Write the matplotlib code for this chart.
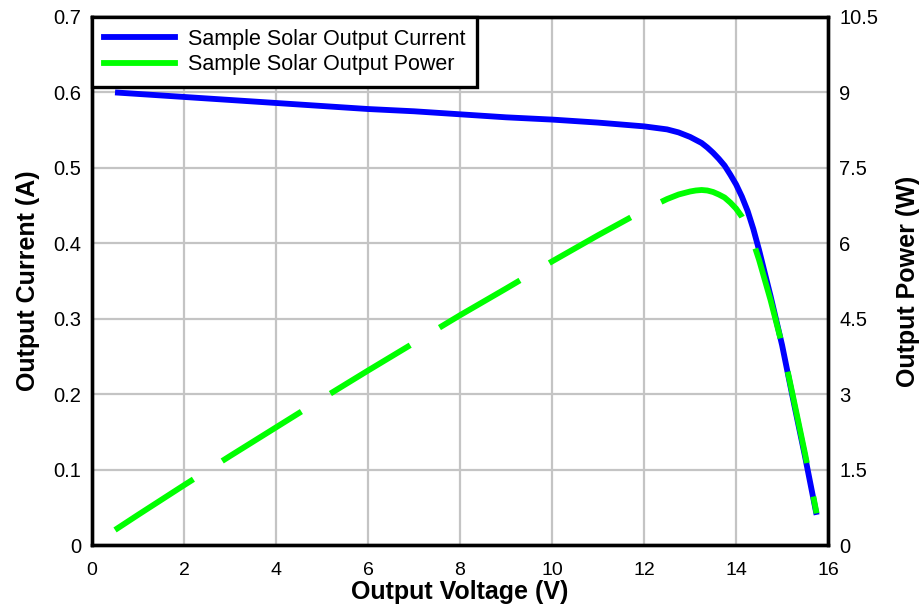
#!/usr/bin/env python3
"""Sample solar panel I-V and P-V curves on twin y axes."""

import matplotlib
matplotlib.use("Agg")
import matplotlib.pyplot as plt
from matplotlib.lines import Line2D

# ---------------------------------------------------------------------
# Data
# ---------------------------------------------------------------------
voltage = [0.5, 1, 2, 3, 4, 5, 6, 7, 8, 9, 10, 11, 12, 12.25, 12.5, 12.75,
           13, 13.125, 13.25, 13.375, 13.5, 13.625, 13.75, 13.875, 14,
           14.125, 14.25, 14.375, 14.5, 14.75, 15, 15.25, 15.5, 15.75]
current = [0.600, 0.598, 0.594, 0.590, 0.586, 0.582, 0.578, 0.575, 0.571,
           0.567, 0.564, 0.560, 0.555, 0.553, 0.551, 0.547, 0.541, 0.537,
           0.533, 0.527, 0.520, 0.512, 0.503, 0.491, 0.478, 0.462, 0.443,
           0.419, 0.391, 0.330, 0.265, 0.190, 0.117, 0.040]
power = [0.30, 0.60, 1.19, 1.77, 2.34, 2.91, 3.47, 4.02, 4.57, 5.10, 5.64,
         6.16, 6.66, 6.77, 6.88, 6.97, 7.03, 7.05, 7.06, 7.05, 7.02, 6.97,
         6.91, 6.81, 6.69, 6.53, 6.31, 6.02, 5.67, 4.87, 3.98, 2.90, 1.81,
         0.63]

x_ticks = [0, 2, 4, 6, 8, 10, 12, 14, 16]
i_ticks = [0, 0.1, 0.2, 0.3, 0.4, 0.5, 0.6, 0.7]
i_labels = ["0", "0.1", "0.2", "0.3", "0.4", "0.5", "0.6", "0.7"]
p_ticks = [0, 1.5, 3, 4.5, 6, 7.5, 9, 10.5]
p_labels = ["0", "1.5", "3", "4.5", "6", "7.5", "9", "10.5"]

series_names = ["Sample Solar Output Current", "Sample Solar Output Power"]

BLUE = "#0000ff"
GREEN = "#00ff00"
GRID = "#c4c4c4"
LW = 4.2

plt.rcParams["font.family"] = ["Liberation Sans", "DejaVu Sans"]

fig = plt.figure(figsize=(9.24, 6.07), dpi=100)
ax = fig.add_axes([0.0996, 0.1021, 0.7966, 0.8699])
ax2 = ax.twinx()

ax.plot(voltage, current, color=BLUE, lw=LW, solid_capstyle="butt",
        solid_joinstyle="round", zorder=3)
line_p, = ax2.plot(voltage, power, color=GREEN, lw=LW,
                   dash_capstyle="butt", dash_joinstyle="round", zorder=3)
line_p.set_dashes((16, 5.85))

ax.set_xlim(0, 16)
ax.set_ylim(0, 0.7)
ax2.set_ylim(0, 10.5)

ax.set_xticks(x_ticks)
ax.set_xticklabels([str(t) for t in x_ticks])
ax.set_yticks(i_ticks)
ax.set_yticklabels(i_labels)
ax2.set_yticks(p_ticks)
ax2.set_yticklabels(p_labels)

ax.grid(True, color=GRID, lw=1.6)
ax.set_axisbelow(True)
for a in (ax, ax2):
    a.tick_params(axis="y", length=0, labelsize=14.5, pad=8)
    for s in a.spines.values():
        s.set_linewidth(2.4)
        s.set_color("black")
ax.tick_params(axis="x", length=0, labelsize=14, pad=12)

label_font = dict(fontsize=18, fontweight="bold")
ax.set_xlabel("Output Voltage (V)", labelpad=1, **label_font)
ax.set_ylabel("Output Current (A)", labelpad=9, **label_font)
ax2.set_ylabel("Output Power (W)", labelpad=13, **label_font)

handles = [Line2D([], [], color=BLUE, lw=LW),
           Line2D([], [], color=GREEN, lw=LW)]
leg = ax2.legend(handles, series_names, loc="upper left", fontsize=15.5,
                 frameon=True, fancybox=False, borderaxespad=0,
                 handlelength=3.3, handletextpad=0.6, labelspacing=0.2,
                 borderpad=0.55)
leg.get_frame().set_edgecolor("black")
leg.get_frame().set_linewidth(2.4)
leg.get_frame().set_alpha(1)

fig.savefig("out.png", dpi=100)
